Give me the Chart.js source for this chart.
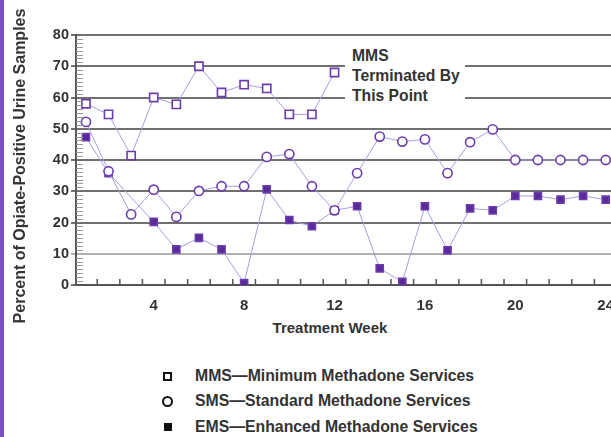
<!DOCTYPE html>
<html>
<head>
<meta charset="utf-8">
<script src="https://cdn.jsdelivr.net/npm/chart.js@4.4.0/dist/chart.umd.min.js"></script>
<style>
  html, body { margin:0; padding:0; background:#fff; overflow:hidden; }
  body { width:611px; height:437px; position:relative; font-family:"Liberation Sans", Arial, sans-serif; color:#333; }
  #frame { position:absolute; left:0; top:0; width:4px; height:437px; background:#7b4fbf; }
  #wrap { position:absolute; left:0; top:0; width:640px; height:312px; }
  #ytitle { position:absolute; left:-150px; top:156px; width:340px; height:20px; line-height:20px; text-align:center;
            transform:rotate(-90deg); font-weight:bold; font-size:16px; color:#333; white-space:nowrap; }
  #note { position:absolute; left:345px; top:46px; width:120px; box-sizing:border-box; padding-left:7px;
          background:#fff; font-weight:bold; font-size:15.7px; line-height:20px; color:#333; }
  #xtitle { position:absolute; left:230px; top:319px; width:200px; text-align:center; font-weight:bold; font-size:15px; color:#333; }
  .row { position:absolute; left:160px; height:20px; line-height:20px; font-size:15.8px; font-weight:bold; color:#333; }
  .row .mk { position:absolute; left:0; top:0; width:14px; height:20px; }
  .row .mk i { position:absolute; box-sizing:border-box; }
  .row span.t { position:absolute; left:35px; white-space:nowrap; }
</style>
</head>
<body>
<div id="frame"></div>
<div id="wrap"><canvas id="chart"></canvas></div>
<div id="ytitle">Percent of Opiate-Positive Urine Samples</div>
<div id="note">MMS<br>Terminated By<br>This Point</div>
<div id="xtitle">Treatment Week</div>
<div id="legend"></div>

<script>
// treatment weeks and percent of opiate-positive samples per week
const weeks = [1,2,3,4,5,6,7,8,9,10,11,12,13,14,15,16,17,18,19,20,21,22,23,24];
const mms = [58, 54.6, 41.4, 60, 57.8, 70, 61.6, 64.1, 62.9, 54.6, 54.6, 68,
             null, null, null, null, null, null, null, null, null, null, null, null];
const sms = [52.2, 36.4, 22.6, 30.5, 21.8, 30.1, 31.6, 31.6, 41, 41.9, 31.6, 23.9,
             35.8, 47.5, 45.9, 46.6, 35.8, 45.7, 49.8, 40, 40, 40, 40, 40];
const ems = [47.3, 35.8, null, 20.2, 11.4, 15.1, 11.4, 0.6, 30.6, 20.8, 18.8, 23.9,
             25.2, 5.3, 1, 25.2, 11.1, 24.5, 23.9, 28.5, 28.5, 27.3, 28.5, 27.3];
const xTickWeeks = [4, 8, 12, 16, 20, 24];

const legendItems = [
  { label: "MMS\u2014Minimum Methadone Services", mark: "open-rect" },
  { label: "SMS\u2014Standard Methadone Services", mark: "circle" },
  { label: "EMS\u2014Enhanced Methadone Services", mark: "rect" }
];

const FONT = "'Liberation Sans', Arial, sans-serif";
const LINE = "#aa9de0";
const MARK = "#6b3cae";

function pts(arr) {
  return weeks.map((w, i) => ({ x: w, y: arr[i] }));
}

function ds(label, arr, style, radius, fill) {
  return {
    label, data: pts(arr), spanGaps: true,
    borderColor: LINE, borderWidth: 1,
    pointStyle: style, pointRadius: radius, pointBorderWidth: 1.6,
    pointBorderColor: MARK, pointBackgroundColor: fill
  };
}

// small inward tick marks between weeks and along the value axis
const minorTicks = {
  id: "minorTicks",
  afterDraw(chart) {
    const { ctx, chartArea: a, scales: { x, y } } = chart;
    ctx.save();
    ctx.beginPath();
    ctx.strokeStyle = "#555";
    ctx.lineWidth = 1.5;
    for (let w = 0.5; w <= 25; w++) {
      const px = x.getPixelForValue(w);
      if (px <= a.left + 2 || px > a.right) continue;
      ctx.moveTo(px, a.bottom);
      ctx.lineTo(px, a.bottom - 6);
    }
    ctx.stroke();
    ctx.beginPath();
    ctx.strokeStyle = "#999";
    ctx.lineWidth = 1;
    for (let v = 1.25; v < 80; v += 1.25) {
      if (v % 10 === 0) continue;
      const py = Math.round(y.getPixelForValue(v)) + 0.5;
      ctx.moveTo(a.left, py);
      ctx.lineTo(a.left + 7, py);
    }
    ctx.stroke();
    ctx.restore();
  }
};

new Chart(document.getElementById("chart"), {
  type: "line",
  data: {
    datasets: [
      ds("MMS", mms, "rect", 5.8, "#fff"),
      ds("SMS", sms, "circle", 4.6, "#fff"),
      ds("EMS", ems, "rect", 5, "#5a2a98")
    ]
  },
  options: {
    responsive: true, maintainAspectRatio: false, animation: false,
    layout: { padding: { left: 0, top: 35, right: 23, bottom: 0 } },
    plugins: { legend: { display: false }, tooltip: { enabled: false } },
    scales: {
      x: {
        type: "linear", min: 0.56, max: 24.5,
        afterBuildTicks: s => { s.ticks = xTickWeeks.map(v => ({ value: v })); },
        afterFit: s => { s.height = 27; },
        grid: { display: false },
        border: { display: true, color: "#555", width: 2 },
        ticks: { color: "#333", padding: 4, font: { family: FONT, size: 15, weight: "bold" } }
      },
      y: {
        min: 0, max: 80,
        afterFit: s => { s.width = 76; },
        ticks: { stepSize: 10, color: "#333", padding: 2, font: { family: FONT, size: 14.5, weight: "bold" } },
        grid: {
          color: c => (c.tick && c.tick.value === 10 ? "#b0b0b0" : "#707070"),
          lineWidth: 2, tickLength: 5
        },
        border: { display: true, color: "#555", width: 2 }
      }
    }
  },
  plugins: [minorTicks]
});

// legend below the chart
const legend = document.getElementById("legend");
const rowTops = [366, 391, 417];
legendItems.forEach((it, i) => {
  const row = document.createElement("div");
  row.className = "row";
  row.style.top = rowTops[i] + "px";
  let mk;
  if (it.mark === "open-rect") mk = '<i style="left:3px;top:6px;width:9px;height:9px;border:2px solid #111"></i>';
  else if (it.mark === "circle") mk = '<i style="left:2px;top:5px;width:11px;height:11px;border:2px solid #111;border-radius:50%"></i>';
  else mk = '<i style="left:4px;top:6px;width:8px;height:8px;background:#111"></i>';
  row.innerHTML = '<span class="mk">' + mk + '</span><span class="t">' + it.label + '</span>';
  legend.appendChild(row);
});
</script>
</body>
</html>
